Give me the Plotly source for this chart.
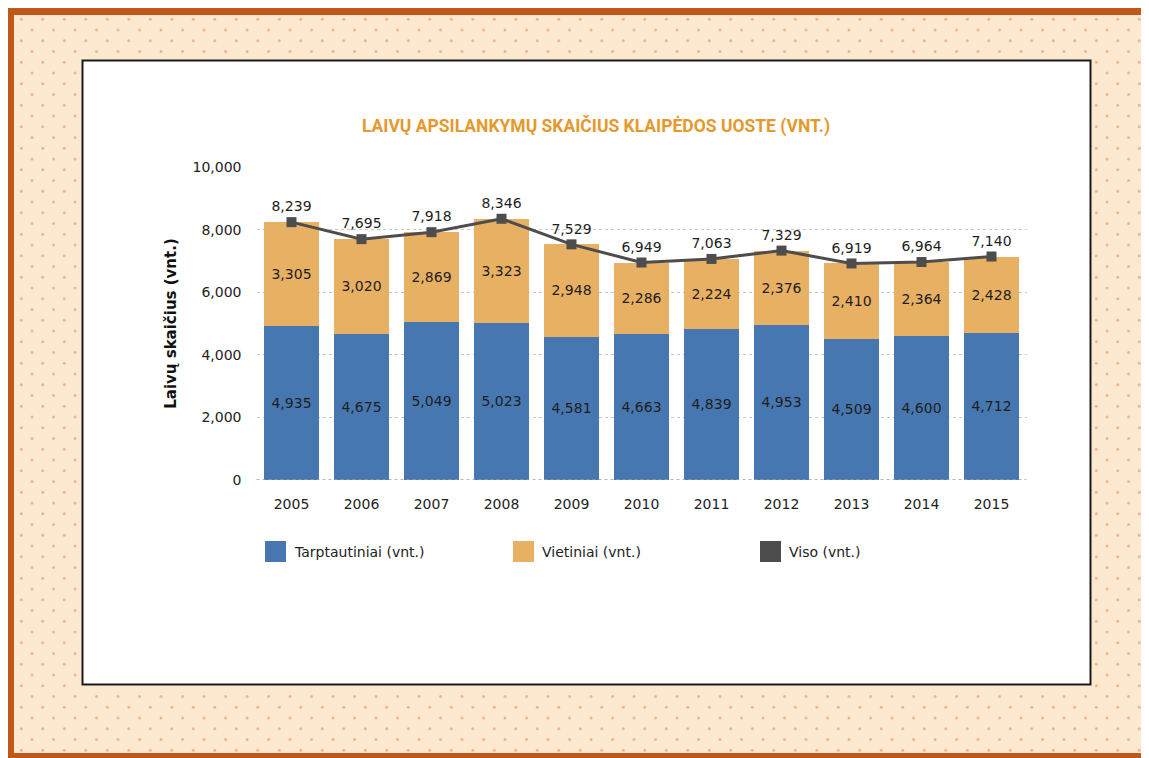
import numpy as np
import plotly.graph_objects as go

# ---------------- data ----------------
years = ["2005", "2006", "2007", "2008", "2009", "2010", "2011", "2012", "2013", "2014", "2015"]
tarptautiniai = [4935, 4675, 5049, 5023, 4581, 4663, 4839, 4953, 4509, 4600, 4712]
vietiniai = [3305, 3020, 2869, 3323, 2948, 2286, 2224, 2376, 2410, 2364, 2428]
viso = [8239, 7695, 7918, 8346, 7529, 6949, 7063, 7329, 6919, 6964, 7140]
series_names = ["Tarptautiniai (vnt.)", "Vietiniai (vnt.)", "Viso (vnt.)"]
y_ticks = [0, 2000, 4000, 6000, 8000, 10000]
title_text = "LAIVŲ APSILANKYMŲ SKAIČIUS KLAIPĖDOS UOSTE (VNT.)"
y_title = "Laivų skaičius (vnt.)"

# ---------------- styling ----------------
W, H = 1149, 758
OFF = 8  # page body margin: screen coordinate of the figure's top-left corner
C_BLUE = "#4677b0"
C_ORANGE = "#e8b063"
C_DARK = "#4d4d4d"
FONT = "DejaVu Sans, Verdana, sans-serif"
TXT = "#1e1e1e"


def px(x):
    return (x - OFF) / W


def py(y):
    return 1 - (y - OFF) / H


fig = go.Figure()

# decorative dotted background pattern (outside the white panel)
dx, dy = 21.5, 10.75
dots_x, dots_y = [], []
for j, yy in enumerate(np.arange(19.3, 752, dy)):
    x0 = 21.3 if j % 2 == 0 else 32.05
    for xx in np.arange(x0, 1143, dx):
        if 79 <= xx <= 1094 and 57 <= yy <= 688:
            continue
        dots_x.append(xx)
        dots_y.append(yy)
fig.add_trace(go.Scatter(
    x=dots_x, y=dots_y, mode="markers", xaxis="x2", yaxis="y2",
    marker=dict(size=3, color="#f5b58a", line=dict(width=0)),
    hoverinfo="skip", showlegend=False,
))

# bars
fig.add_trace(go.Bar(
    x=years, y=tarptautiniai, name=series_names[0], marker_color=C_BLUE,
    marker_line_width=0,
    texttemplate="%{y:,}", textposition="inside", insidetextanchor="middle",
    textangle=0, constraintext="none",
    textfont=dict(family=FONT, size=14, color=TXT), showlegend=False,
))
fig.add_trace(go.Bar(
    x=years, y=vietiniai, name=series_names[1], marker_color=C_ORANGE,
    marker_line_width=0,
    texttemplate="%{y:,}", textposition="inside", insidetextanchor="middle",
    textangle=0, constraintext="none",
    textfont=dict(family=FONT, size=14, color=TXT), showlegend=False,
))
fig.add_trace(go.Scatter(
    x=years, y=viso, name=series_names[2], mode="lines+markers+text",
    line=dict(color=C_DARK, width=3),
    marker=dict(symbol="square", size=10, color=C_DARK),
    texttemplate="%{y:,}", textposition="top center",
    textfont=dict(family=FONT, size=14, color=TXT),
    cliponaxis=False, showlegend=False,
))

shapes = [
    # outer orange frame
    dict(type="rect", xref="paper", yref="paper", x0=0, x1=1, y0=0, y1=1,
         fillcolor="#c2571a", line_width=0, layer="below"),
    dict(type="rect", xref="paper", yref="paper", x0=px(14), x1=px(1144), y0=py(15), y1=py(753),
         fillcolor="#fde8d0", line_width=0, layer="below"),
    # white panel
    dict(type="rect", xref="paper", yref="paper", x0=px(82.5), x1=px(1090.5), y0=py(60.5), y1=py(684.5),
         fillcolor="white", line=dict(color="#1a1a1a", width=2), layer="below"),
    # baseline
    dict(type="line", xref="x domain", yref="y", x0=0, x1=1, y0=0, y1=0,
         line=dict(color="#a0a0a0", width=1.5, dash="dot"), layer="above"),
]

annotations = []
# manual legend
legend_items = [(265, C_BLUE), (513, C_ORANGE), (760, C_DARK)]
for (lx, col), name in zip(legend_items, series_names):
    shapes.append(dict(type="rect", xref="paper", yref="paper",
                       x0=px(lx), x1=px(lx + 21), y0=py(541), y1=py(562),
                       fillcolor=col, line=dict(color=col, width=0), layer="above"))
    annotations.append(dict(xref="paper", yref="paper", x=px(lx + 27), y=py(551.5),
                            text=name, showarrow=False, xanchor="left", yanchor="middle",
                            font=dict(family=FONT, size=14, color="#222")))

fig.update_layout(
    width=W, height=H,
    margin=dict(l=0, r=0, t=0, b=0, autoexpand=False),
    paper_bgcolor="white",
    plot_bgcolor="rgba(0,0,0,0)",
    barmode="stack",
    bargap=0.214,
    showlegend=False,
    title=dict(text=title_text, x=px(596), y=py(126), xanchor="center", yanchor="middle",
               xref="paper", yref="paper",
               font=dict(family="Roboto, Liberation Sans, sans-serif",
                         size=17.5, color="#e5992d", weight="bold")),
    xaxis=dict(
        domain=[px(256.5), px(1026.5)], anchor="y",
        type="category", range=[-0.5, len(years) - 0.5],
        showgrid=False, zeroline=False, showline=False,
        ticks="", ticklabelstandoff=14,
        tickfont=dict(family=FONT, size=14, color="#222"),
    ),
    yaxis=dict(
        domain=[py(480), py(167)], anchor="x",
        range=[0, 10000], tickvals=y_ticks, tickformat=",",
        showgrid=True, gridcolor="#c8c8c8", griddash="dot", gridwidth=1,
        zeroline=False, showline=False, ticks="", ticklabelstandoff=14,
        tickfont=dict(family=FONT, size=14, color="#222"),
        title=dict(text=y_title, standoff=12,
                   font=dict(family=FONT, size=15, color="#111", weight="bold")),
    ),
    xaxis2=dict(domain=[0, 1], range=[OFF, W + OFF], visible=False, anchor="y2", fixedrange=True),
    yaxis2=dict(domain=[0, 1], range=[H + OFF, OFF], visible=False, anchor="x2", fixedrange=True),
    shapes=shapes,
    annotations=annotations,
)

fig.write_html("out.html")
